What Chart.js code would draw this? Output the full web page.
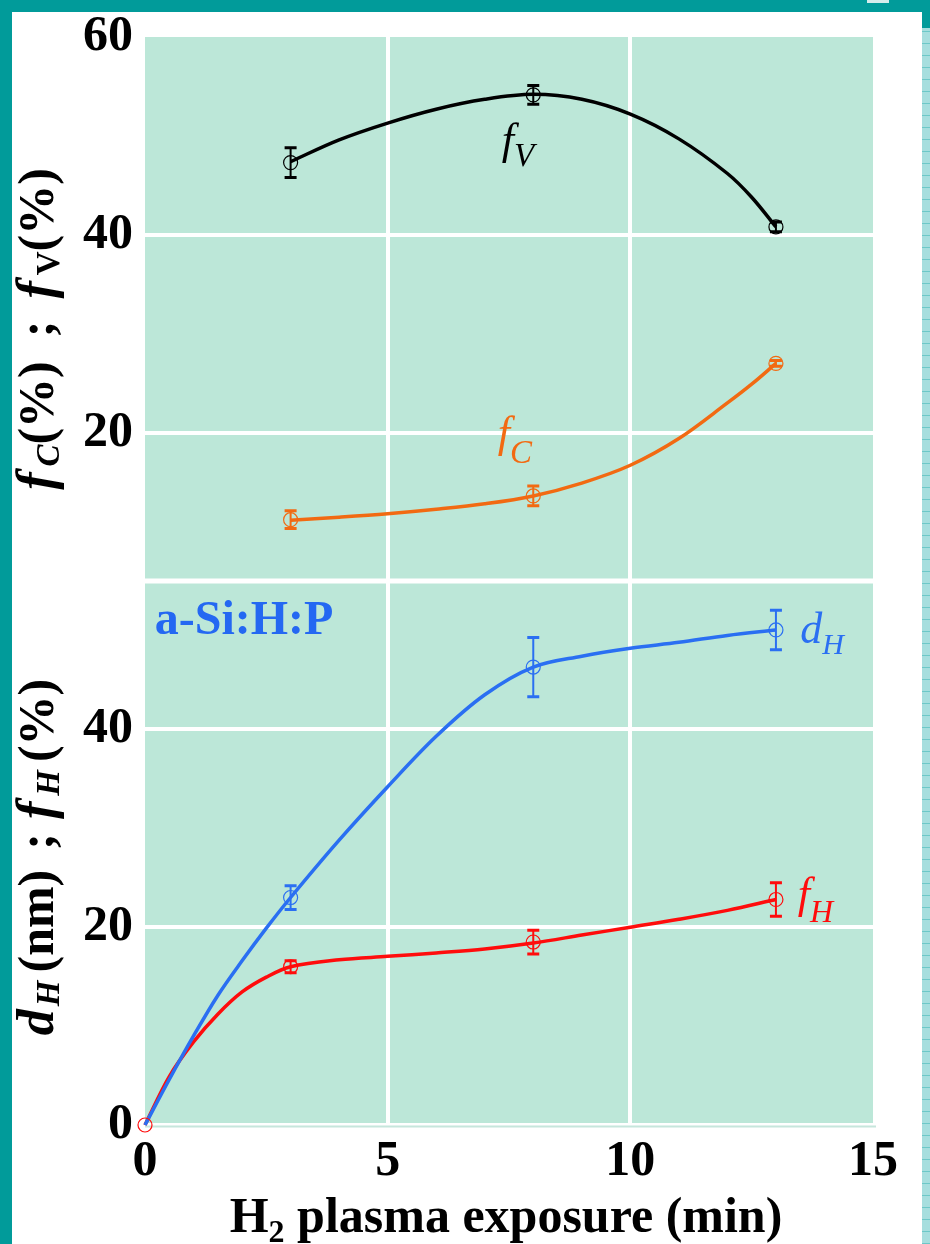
<!DOCTYPE html>
<html>
<head>
<meta charset="utf-8">
<script src="https://cdn.jsdelivr.net/npm/chart.js@4/dist/chart.umd.min.js"></script>
<style>
  body { margin: 0; width: 930px; height: 1244px; overflow: hidden; background: #019b9a; position: relative; }
  #sheet { position: absolute; left: 12px; top: 12px; width: 910px; height: 1232px; background: #fff; }
  #strip { position: absolute; left: 922px; top: 28px; width: 8px; height: 1216px;
    background: repeating-linear-gradient(0deg, #6cc8c8 0 1px, #a6dede 1px 12px); }
  #corner { position: absolute; left: 867px; top: 0; width: 22px; height: 3px; background: #d6ecec; }
  canvas { position: absolute; left: 0; top: 0; }
</style>
</head>
<body>
<div id="sheet"></div>
<div id="strip"></div>
<div id="corner"></div>
<canvas id="chart" width="930" height="1244"></canvas>
<script>
// measured points: exposure times (min)
const timesTop = [3, 8, 13];
const timesBot = [0, 3, 8, 13];

// upper panel (%)
const fV = [47.3, 54.15, 40.8];
const fVErr = [1.5, 0.95, 0.5];
const fC = [11.2, 13.6, 27.0];
const fCErr = [0.9, 1.0, 0.3];

// lower panel
const dH = [0, 23.0, 46.3, 50.05];   // nm
const dHErr = [0, 1.2, 3.0, 2.0];
const fH = [0, 16.0, 18.5, 22.8];    // %
const fHErr = [0, 0.6, 1.2, 1.7];

// guide curves
const curveTimesTop = [3, 4, 5, 6, 7, 8, 9, 10, 11, 12, 12.5, 13];
const fVCurve = [47.4, 49.6, 51.3, 52.7, 53.7, 54.2, 53.7, 52.2, 49.7, 46.2, 43.8, 40.8];
const fCCurve = [11.15, 11.45, 11.8, 12.25, 12.8, 13.6, 14.9, 16.7, 19.4, 23.0, 24.9, 27.0];
const curveTimesBot = [0, 0.5, 1, 1.5, 2, 2.5, 3, 4, 5, 6, 7, 8, 9, 10, 11, 12, 13];
const dHCurve = [0, 4.6, 9.0, 13.1, 16.6, 19.9, 23.0, 28.8, 34.2, 39.3, 43.5, 46.3, 47.4, 48.2, 48.8, 49.5, 50.05];
const fHCurve = [0, 4.9, 8.4, 11.2, 13.45, 14.95, 16.0, 16.7, 17.05, 17.4, 17.8, 18.4, 19.2, 20.0, 20.8, 21.7, 22.8];

const xTicks = [0, 5, 10, 15];
const yTopTicks = [20, 40, 60];
const yBotTicks = [0, 20, 40];

const GREEN = '#bce7d8';
const BLACK = '#000000';
const ORANGE = '#f26a12';
const BLUE = '#2a6ff2';
const RED = '#ff0c0c';

const SERIF = '"Liberation Serif", "Times New Roman", serif';

function pts(xs, ys) { return xs.map((x, i) => ({ x: x, y: ys[i] })); }

function curve(xs, ys, color, axis) {
  return {
    data: pts(xs, ys), yAxisID: axis, order: 2,
    borderColor: color, borderWidth: 3.5, tension: 0.35,
    pointRadius: 0, clip: false
  };
}

function markers(xs, ys, errs, color, axis, radii) {
  return {
    data: pts(xs, ys), errors: errs, yAxisID: axis, order: 1, showLine: false,
    borderColor: color, pointRadius: radii, pointBorderWidth: 1.2,
    pointBorderColor: color, pointBackgroundColor: 'rgba(0,0,0,0)', clip: false
  };
}

function drawRich(ctx, parts, cx, cy, rotate, align) {
  ctx.save();
  ctx.translate(cx, cy);
  if (rotate) ctx.rotate(-Math.PI / 2);
  let total = 0;
  parts.forEach(p => {
    if (p.gap) { p.w = p.gap; } else { ctx.font = p.font; p.w = ctx.measureText(p.t).width; }
    total += p.w;
  });
  let x = align === 'left' ? 0 : -total / 2;
  ctx.textBaseline = 'alphabetic';
  ctx.textAlign = 'left';
  parts.forEach(p => {
    if (!p.gap) {
      ctx.font = p.font;
      ctx.fillStyle = p.color || '#000';
      ctx.fillText(p.t, x, p.dy || 0);
    }
    x += p.w;
  });
  ctx.restore();
}

const backdrop = {
  id: 'backdrop',
  beforeDraw(chart) {
    const { ctx, chartArea: a } = chart;
    ctx.save();
    ctx.fillStyle = GREEN;
    ctx.fillRect(a.left, a.top, a.right - a.left, a.bottom - a.top - 2);
    ctx.strokeStyle = '#c6e6dc';
    ctx.lineWidth = 2;
    ctx.beginPath();
    ctx.moveTo(a.left, a.bottom + 1.5);
    ctx.lineTo(a.right + 3, a.bottom + 1.5);
    ctx.stroke();
    ctx.restore();
  },
  beforeDatasetsDraw(chart) {
    const { ctx, chartArea: a } = chart;
    const yb = chart.scales.yBot.top;
    ctx.save();
    ctx.strokeStyle = '#ffffff';
    ctx.lineWidth = 5;
    ctx.beginPath();
    ctx.moveTo(a.left, yb);
    ctx.lineTo(a.right, yb);
    ctx.stroke();
    ctx.restore();
  }
};

const errorBars = {
  id: 'errorBars',
  afterDatasetsDraw(chart) {
    const ctx = chart.ctx;
    chart.data.datasets.forEach(ds => {
      if (!ds.errors) return;
      const xs = chart.scales.x, ys = chart.scales[ds.yAxisID];
      ds.data.forEach((p, i) => {
        const e = ds.errors[i];
        if (!e) return;
        const px = xs.getPixelForValue(p.x);
        const y1 = ys.getPixelForValue(p.y + e), y2 = ys.getPixelForValue(p.y - e);
        ctx.save();
        ctx.strokeStyle = ds.borderColor;
        ctx.lineWidth = 2;
        ctx.beginPath();
        ctx.moveTo(px, y1); ctx.lineTo(px, y2);
        ctx.stroke();
        ctx.lineWidth = 3;
        ctx.beginPath();
        ctx.moveTo(px - 6, y1); ctx.lineTo(px + 6, y1);
        ctx.moveTo(px - 6, y2); ctx.lineTo(px + 6, y2);
        ctx.stroke();
        ctx.restore();
      });
    });
  }
};

const texts = {
  id: 'texts',
  afterDraw(chart) {
    const ctx = chart.ctx;
    const x = chart.scales.x, yt = chart.scales.yTop, yb = chart.scales.yBot;
    const bi = 'bold italic 52px ' + SERIF, b = 'bold 50px ' + SERIF;
    const bis = 'bold italic 33px ' + SERIF, bs = 'bold 33px ' + SERIF;
    const it = 'italic 44px ' + SERIF, its = 'italic 33px ' + SERIF;

    // axis titles
    drawRich(ctx, [
      { t: 'f', font: bi }, { gap: 6 }, { t: 'C', font: bis, dy: 6 }, { t: '(%)', font: b },
      { gap: 24 }, { t: ';', font: b }, { gap: 22 },
      { t: 'f', font: bi }, { gap: 6 }, { t: 'V', font: bs, dy: 6 }, { t: '(%)', font: b }
    ], 53, 329, true);
    drawRich(ctx, [
      { t: 'd', font: bi }, { gap: 3 }, { t: 'H', font: bis, dy: 6 }, { gap: 8 }, { t: '(nm)', font: b },
      { gap: 20 }, { t: ';', font: b }, { gap: 14 },
      { t: 'f', font: bi }, { gap: 6 }, { t: 'H', font: bis, dy: 6 }, { gap: 8 }, { t: '(%)', font: b }
    ], 53, 857, true);
    drawRich(ctx, [
      { t: 'H', font: 'bold 50px ' + SERIF }, { t: '2', font: 'bold 32px ' + SERIF, dy: 10 },
      { t: ' plasma exposure (min)', font: 'bold 50px ' + SERIF }
    ], 506, 1232, false);

    // series labels
    drawRich(ctx, [{ t: 'f', font: it, color: BLACK }, { t: 'V', font: its, dy: 12, color: BLACK }],
      x.getPixelForValue(7.35), yt.getPixelForValue(48.2), false, 'left');
    drawRich(ctx, [{ t: 'f', font: it, color: ORANGE }, { t: 'C', font: its, dy: 16, color: ORANGE }],
      x.getPixelForValue(7.27), yt.getPixelForValue(18.5), false, 'left');
    drawRich(ctx, [{ t: 'd', font: it, color: BLUE }, { t: 'H', font: 'italic 30px ' + SERIF, dy: 11, color: BLUE }],
      x.getPixelForValue(13.5), yb.getPixelForValue(48.7), false, 'left');
    drawRich(ctx, [{ t: 'f', font: it, color: RED }, { t: 'H', font: 'italic 32px ' + SERIF, dy: 14, color: RED }],
      x.getPixelForValue(13.45), yb.getPixelForValue(21.9), false, 'left');
    drawRich(ctx, [{ t: 'a-Si:H:P', font: 'bold 48px ' + SERIF, color: '#2468f2' }],
      x.getPixelForValue(0.2), yb.getPixelForValue(49.6), false, 'left');
  }
};

const tickFont = { family: SERIF, size: 50, weight: 'bold', lineHeight: 1 };
const white = v => ctx => (v.includes(ctx.tick.value) ? '#ffffff' : 'rgba(0,0,0,0)');

new Chart(document.getElementById('chart'), {
  type: 'line',
  data: {
    datasets: [
      curve(curveTimesTop, fVCurve, BLACK, 'yTop'),
      curve(curveTimesTop, fCCurve, ORANGE, 'yTop'),
      curve(curveTimesBot, dHCurve, BLUE, 'yBot'),
      curve(curveTimesBot, fHCurve, RED, 'yBot'),
      markers(timesTop, fV, fVErr, BLACK, 'yTop', 7),
      markers(timesTop, fC, fCErr, ORANGE, 'yTop', 7),
      markers(timesBot, dH, dHErr, BLUE, 'yBot', [0, 7, 7, 7]),
      markers(timesBot, fH, fHErr, RED, 'yBot', [7, 7, 7, 7])
    ]
  },
  options: {
    responsive: false,
    animation: false,
    layout: { padding: { left: 70, right: 57, top: 28, bottom: 59 } },
    plugins: { legend: { display: false }, tooltip: { enabled: false } },
    scales: {
      x: {
        type: 'linear', min: 0, max: 15,
        afterBuildTicks: s => { s.ticks = xTicks.map(v => ({ value: v })); },
        afterFit: s => { s.height = 60; },
        grid: { color: white([5, 10]), lineWidth: 4, drawTicks: false },
        border: { display: false },
        ticks: { font: tickFont, color: '#000', padding: 12, maxRotation: 0 }
      },
      yBot: {
        type: 'linear', position: 'left', stack: 'panels', stackWeight: 1, min: 0, max: 55,
        afterBuildTicks: s => { s.ticks = yBotTicks.map(v => ({ value: v })); },
        afterFit: s => { s.width = 75; },
        grid: { color: white([20, 40]), lineWidth: 4, drawTicks: false },
        border: { display: false },
        ticks: { font: tickFont, color: '#000', padding: 12 }
      },
      yTop: {
        type: 'linear', position: 'left', stack: 'panels', stackWeight: 1, min: 5, max: 60,
        afterBuildTicks: s => { s.ticks = yTopTicks.map(v => ({ value: v })); },
        afterFit: s => { s.width = 75; },
        grid: { color: white([20, 40]), lineWidth: 4, drawTicks: false },
        border: { display: false },
        ticks: { font: tickFont, color: '#000', padding: 12 }
      }
    }
  },
  plugins: [backdrop, errorBars, texts]
});
</script>
</body>
</html>
